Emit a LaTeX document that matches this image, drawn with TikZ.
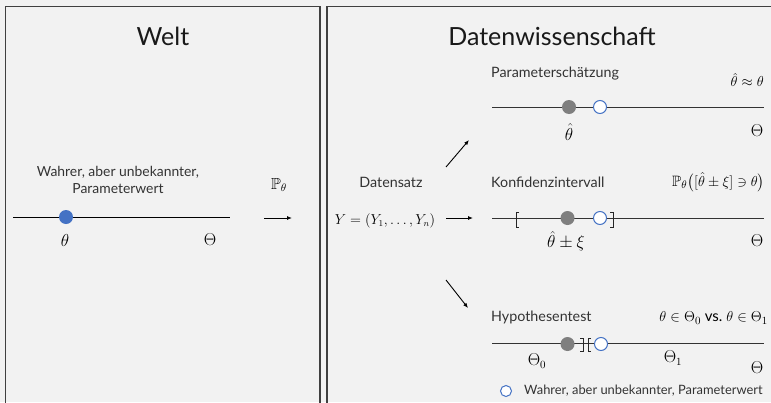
\documentclass[tikz,border=0pt]{standalone}
\usepackage{amsmath,amssymb}
\usepackage{fontspec}
\setmainfont{Lato}
\usetikzlibrary{arrows.meta}
\definecolor{bg}{HTML}{F2F2F2}
\definecolor{frame}{HTML}{404040}
\definecolor{tblue}{HTML}{4472C4}
\definecolor{dgray}{HTML}{7F7F7F}
\definecolor{txt}{HTML}{333333}
\tikzset{
  panel/.style={draw=frame, line width=1.4pt},
  title/.style={font=\fontsize{25}{30}\selectfont, text=black!90, inner sep=0pt},
  small/.style={font=\fontsize{14.3}{17}\selectfont, text=txt, inner sep=0pt},
  mathlbl/.style={font=\fontsize{16}{18}\selectfont, inner sep=0pt},
  mathr/.style={font=\fontsize{15}{17}\selectfont, inner sep=0pt},
  axis/.style={draw=black!80, line width=0.9pt},
  arr/.style={draw=black, line width=0.9pt, -{Latex[length=5pt,width=4pt]}},
  truedot/.style={circle, fill=tblue, minimum size=14pt, inner sep=0pt},
  estdot/.style={circle, fill=dgray, minimum size=14pt, inner sep=0pt},
  opendot/.style={circle, draw=tblue, fill=white, line width=1pt, minimum size=13pt, inner sep=0pt},
  brk/.style={draw=black!85, line width=1pt}
}
\begin{document}
\begin{tikzpicture}[x=1pt,y=-1pt]
\fill[bg] (0,0) rectangle (771,402);
\useasboundingbox (0,0) rectangle (771,402);
% panels
\draw[panel] (5.5,415) -- (5.5,6.5) -- (320,6.5) -- (320,415);
\draw[panel] (327,415) -- (327,6.5) -- (785,6.5);
\node[title] (welt) at (163,36) {Welt};
\node[title] (ds) at (552,36) {Datenwissenschaft};

% Welt
\node[small, align=center, font=\fontsize{13.9}{17}\selectfont] (wlbl) at (118,180) {Wahrer, aber unbekannter,\\Parameterwert};
\coordinate (wl0) at (13,217);
\coordinate (wl1) at (230,217);
\draw[axis, draw=black] (wl0) -- (wl1);
\node[truedot] (wdot) at (66,217) {};
\node[mathlbl] (wth) at (65,240) {$\theta$};
\node[mathlbl] (wTh) at (210,240) {$\Theta$};
\node[mathlbl] (Pth) at (279,185) {$\mathbb{P}_\theta$};
\coordinate (pa0) at (264,218);
\coordinate (pa1) at (292,218);
\draw[arr] (pa0) -- (pa1);

% Datensatz
\node[small] (dsatz) at (391,182) {Datensatz};
\node[font=\fontsize{13.4}{15}\selectfont, inner sep=0pt] (Y) at (385,221) {$Y=(Y_1,\dots,Y_n)$};
\coordinate (a0) at (446,218);
\coordinate (a1) at (473,218);
\draw[arr] (a0) -- (a1);
\coordinate (u0) at (446,167);
\coordinate (u1) at (469,140);
\draw[arr] (u0) -- (u1);
\coordinate (d0) at (446,280);
\coordinate (d1) at (468,308);
\draw[arr] (d0) -- (d1);

% Parameterschaetzung
\node[small, anchor=west] (ps) at (491,74) {Parameterschätzung};
\node[mathr, anchor=east] (psr) at (764,80) {$\hat\theta\approx\theta$};
\coordinate (p0) at (492,107);
\coordinate (p1) at (764,107);
\draw[axis] (p0) -- (p1);
\node[estdot] (pe) at (569,107) {};
\node[opendot] (pt) at (600,107) {};
\node[mathlbl] (pth) at (569,132) {$\hat\theta$};
\node[mathlbl] (pTh) at (757,131) {$\Theta$};

% Konfidenzintervall
\node[small, anchor=west] (ki) at (491,182) {Konfidenzintervall};
\node[mathr, anchor=east] (kir) at (765,182) {$\mathbb{P}_\theta\bigl([\hat\theta\pm\xi]\ni\theta\bigr)$};
\coordinate (k0) at (492,218);
\coordinate (k1) at (764,218);
\draw[axis] (k0) -- (k1);
\draw[brk] (519,212) -- (516,212) -- (516,227) -- (519,227);
\draw[brk] (610,212) -- (613,212) -- (613,227) -- (610,227);
\node[estdot] (ke) at (567.5,218) {};
\node[opendot] (kt) at (600,218) {};
\node[mathlbl] (kth) at (566,241) {$\hat\theta\pm\xi$};
\node[mathlbl] (kTh) at (757,241) {$\Theta$};

% Hypothesentest
\node[small, anchor=west] (ht) at (491,317) {Hypothesentest};
\node[mathr, anchor=east] (htr) at (768,318) {$\theta\in\Theta_0$ \text{vs.} $\theta\in\Theta_1$};
\coordinate (h0) at (492,343);
\coordinate (h1) at (764,343);
\draw[axis] (h0) -- (h1);
\draw[brk] (580,338) -- (583,338) -- (583,351.5) -- (580,351.5);
\draw[brk] (591,338) -- (588,338) -- (588,351.5) -- (591,351.5);
\node[estdot] (he) at (567.5,344) {};
\node[opendot] (htt) at (601,344) {};
\node[mathlbl] (hT0) at (537,361) {$\Theta_0$};
\node[mathlbl] (hT1) at (673,358) {$\Theta_1$};
\node[mathlbl] (hTh) at (757,368) {$\Theta$};

% Legend
\node[opendot, minimum size=11pt] (lg) at (506,391) {};
\node[small, anchor=west, font=\fontsize{12.9}{15}\selectfont] (lgt) at (524,391) {Wahrer, aber unbekannter, Parameterwert};
\end{tikzpicture}
\end{document}
